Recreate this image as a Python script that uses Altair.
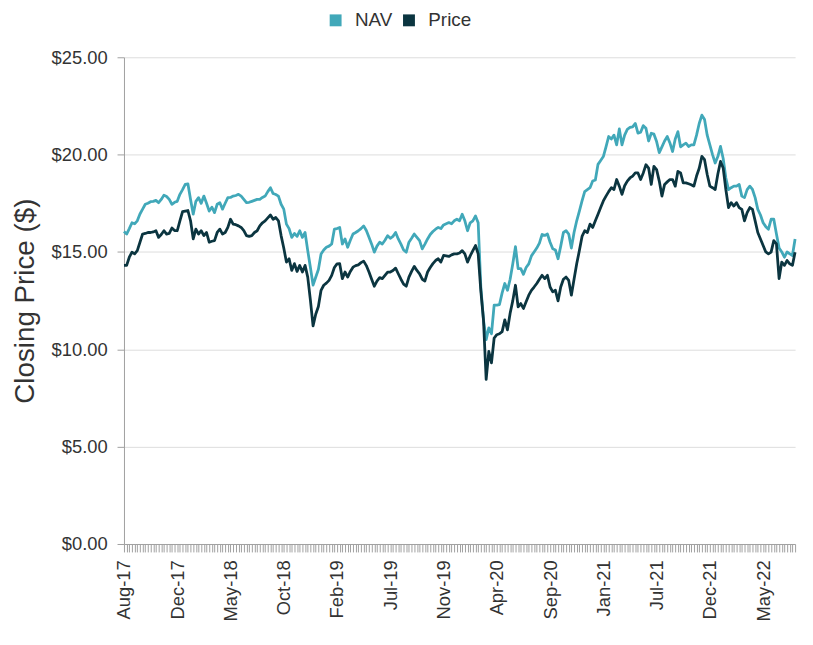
import altair as alt
import pandas as pd

# Weekly closing values (approximate readings from the reference)
nav = [
    16.05, 15.92, 16.20, 16.50, 16.45, 16.60, 16.95, 17.20, 17.45, 17.50,
    17.58, 17.60, 17.65, 17.53, 17.70, 17.92, 17.85, 17.70, 17.45, 17.55,
    17.60, 17.96, 18.20, 18.47, 18.50, 17.70, 16.94, 17.60, 17.79, 17.50,
    17.87, 17.50, 17.10, 17.30, 17.02, 17.45, 17.53, 17.20, 17.50, 17.79,
    17.80, 17.87, 17.90, 17.96, 17.87, 17.70, 17.53, 17.55, 17.60, 17.65,
    17.70, 17.70, 17.80, 17.87, 18.10, 18.30, 18.00, 17.95, 17.87, 17.45,
    17.20, 16.43, 16.20, 15.75, 15.95, 15.80, 16.09, 15.75, 16.00, 15.07,
    14.20, 13.30, 13.70, 14.10, 14.90, 15.10, 15.24, 15.30, 15.41, 16.17,
    16.20, 16.26, 15.41, 15.67, 15.24, 15.60, 15.92, 16.00, 16.09, 16.20,
    16.34, 16.10, 15.75, 15.40, 14.99, 15.30, 15.50, 15.41, 15.60, 15.84,
    15.70, 15.80, 16.00, 15.67, 15.40, 15.10, 14.99, 15.50, 15.70, 15.92,
    15.75, 15.58, 15.16, 15.40, 15.67, 15.90, 16.05, 16.17, 16.26, 16.20,
    16.39, 16.45, 16.51, 16.45, 16.60, 16.68, 16.60, 16.94, 16.60, 16.09,
    16.50, 16.60, 16.85, 16.50, 13.20, 11.50, 10.50, 11.10, 10.80, 12.27,
    12.27, 12.30, 12.90, 13.38, 13.03, 13.60, 14.40, 15.27, 14.14, 14.14,
    13.85, 14.20, 14.39, 14.80, 15.00, 15.20, 15.45, 15.90, 15.85, 15.92,
    15.50, 15.16, 15.10, 14.65, 15.30, 16.00, 16.09, 15.92, 15.20, 16.00,
    16.60, 17.10, 17.62, 18.10, 18.20, 18.30, 18.64, 18.70, 19.50, 19.70,
    19.90, 20.40, 20.93, 20.80, 21.00, 20.50, 21.32, 20.50, 21.00, 21.30,
    21.40, 21.43, 21.60, 21.10, 21.15, 21.49, 21.35, 20.70, 21.10, 21.05,
    20.67, 20.10, 20.40, 20.70, 20.93, 20.60, 20.16, 20.80, 21.18, 20.40,
    20.50, 20.59, 20.42, 20.50, 20.50, 21.00, 21.60, 22.03, 21.80, 21.00,
    20.50, 20.00, 19.57, 19.90, 20.42, 19.80, 18.80, 18.20, 18.30, 18.38,
    18.38, 18.47, 17.87, 17.79, 18.20, 18.38, 18.21, 17.79, 17.19, 16.90,
    16.50, 16.30, 16.17, 16.68, 16.68, 15.92, 15.20, 15.00, 14.73, 15.00,
    14.90, 14.82, 15.67,
]

price = [
    14.31, 14.31, 14.73, 14.99, 14.90, 15.07, 15.50, 15.92, 15.95, 16.00,
    16.00, 16.03, 16.09, 15.75, 15.90, 16.09, 15.92, 15.95, 16.23, 16.10,
    16.09, 16.60, 17.07, 17.10, 17.13, 16.60, 15.67, 16.17, 15.92, 16.09,
    15.84, 16.00, 15.50, 15.55, 15.58, 16.00, 16.17, 15.92, 16.00, 16.26,
    16.68, 16.43, 16.40, 16.34, 16.26, 16.10, 15.84, 15.80, 15.84, 16.00,
    16.09, 16.34, 16.50, 16.60, 16.75, 16.90, 16.68, 16.77, 16.60, 15.84,
    15.20, 14.48, 14.65, 14.05, 14.40, 14.00, 14.31, 13.97, 14.31, 13.71,
    12.53, 11.20, 11.80, 12.20, 13.03, 13.29, 13.40, 13.54, 13.80, 14.20,
    14.39, 14.40, 13.63, 13.97, 13.71, 14.00, 14.22, 14.30, 14.34, 14.45,
    14.53, 14.30, 13.97, 13.60, 13.24, 13.50, 13.68, 13.63, 13.80, 13.97,
    13.97, 14.05, 14.17, 13.88, 13.60, 13.35, 13.24, 13.71, 14.00, 14.26,
    14.05, 13.88, 13.60, 13.51, 13.97, 14.20, 14.40, 14.56, 14.65, 14.48,
    14.82, 14.80, 14.77, 14.85, 14.90, 14.90, 14.95, 15.07, 14.90, 14.48,
    14.80, 15.07, 15.33, 14.90, 13.00, 11.50, 8.45, 9.89, 9.30, 10.58,
    10.75, 10.80, 10.91, 11.51, 11.00, 11.85, 12.50, 13.29, 12.18, 12.35,
    12.10, 12.44, 12.78, 13.03, 13.20, 13.38, 13.60, 13.80, 13.63, 13.80,
    13.20, 12.95, 13.03, 12.49, 13.20, 13.60, 13.71, 13.54, 12.78, 13.60,
    14.39, 15.07, 15.80, 16.09, 16.00, 16.43, 16.26, 16.60, 16.94, 17.28,
    17.62, 17.87, 18.10, 18.30, 18.21, 18.72, 18.38, 17.96, 18.40, 18.64,
    18.80, 18.90, 19.06, 19.06, 18.72, 19.06, 19.48, 19.31, 18.47, 19.40,
    19.23, 18.64, 17.87, 18.47, 18.60, 18.72, 18.72, 18.38, 19.14, 19.06,
    18.55, 18.55, 18.50, 18.45, 18.38, 18.90, 19.30, 19.91, 19.74, 18.98,
    18.38, 18.30, 18.21, 19.00, 19.65, 19.31, 18.21, 17.28, 17.53, 17.36,
    17.53, 17.28, 17.19, 16.60, 17.02, 17.28, 17.19, 16.60, 16.00, 15.67,
    15.33, 15.00, 14.90, 14.99, 15.58, 15.41, 13.63, 14.48, 14.31, 14.56,
    14.39, 14.31, 14.99,
]

tick_labels = ["Aug-17", "Dec-17", "May-18", "Oct-18", "Feb-19", "Jul-19",
               "Nov-19", "Apr-20", "Sep-20", "Jan-21", "Jul-21", "Dec-21",
               "May-22"]
label_every = 20
series_names = ["NAV", "Price"]
series_colors = ["#41a8b9", "#0b3540"]
y_ticks = [0, 5, 10, 15, 20, 25]

n = len(nav)
df = pd.DataFrame({
    "i": list(range(n)) * 2,
    "value": nav + price,
    "series": [series_names[0]] * n + [series_names[1]] * n,
})

label_list = ",".join("'" + t + "'" for t in tick_labels)
label_expr = (f"datum.value % {label_every} == 0 ? "
              f"[{label_list}][datum.value / {label_every}] : ''")

chart = alt.Chart(df).mark_line(strokeWidth=2.8, strokeJoin="round").encode(
    x=alt.X(
        "i:Q",
        scale=alt.Scale(domain=[0, n - 1], nice=False, zero=False),
        axis=alt.Axis(
            values=list(range(n)), labelExpr=label_expr, labelAngle=270,
            labelOverlap=False, labelBound=False, labelFlush=False,
            grid=False, tickSize=8, tickColor="#a0a0a0", domainColor="#a0a0a0",
            labelFontSize=18.5, labelColor="#333333", labelPadding=8, title=None,
        ),
    ),
    y=alt.Y(
        "value:Q",
        scale=alt.Scale(domain=[0, 25], nice=False),
        axis=alt.Axis(
            values=y_ticks, format="$.2f", title="Closing Price ($)",
            titleFontSize=28, titleFontWeight="normal", titleColor="#333333",
            titlePadding=12, labelFontSize=18.5, labelColor="#333333",
            labelPadding=10, tickSize=7, tickColor="#a0a0a0",
            domainColor="#a0a0a0", gridColor="#dddddd",
        ),
    ),
    color=alt.Color(
        "series:N",
        scale=alt.Scale(domain=series_names, range=series_colors),
        legend=alt.Legend(
            orient="none", legendX=204, legendY=-47, direction="horizontal",
            title=None, symbolType="square", symbolSize=36,
            symbolStrokeWidth=6, labelFontSize=19, labelColor="#333333",
            columnPadding=1, labelOffset=10,
        ),
    ),
).properties(
    width=677, height=491,
    padding={"left": 3, "top": 0, "right": 0, "bottom": 0},
).configure(font="Liberation Sans").configure_view(stroke=None)

chart.save("out.html", embed_options={"renderer": "svg", "actions": False})
